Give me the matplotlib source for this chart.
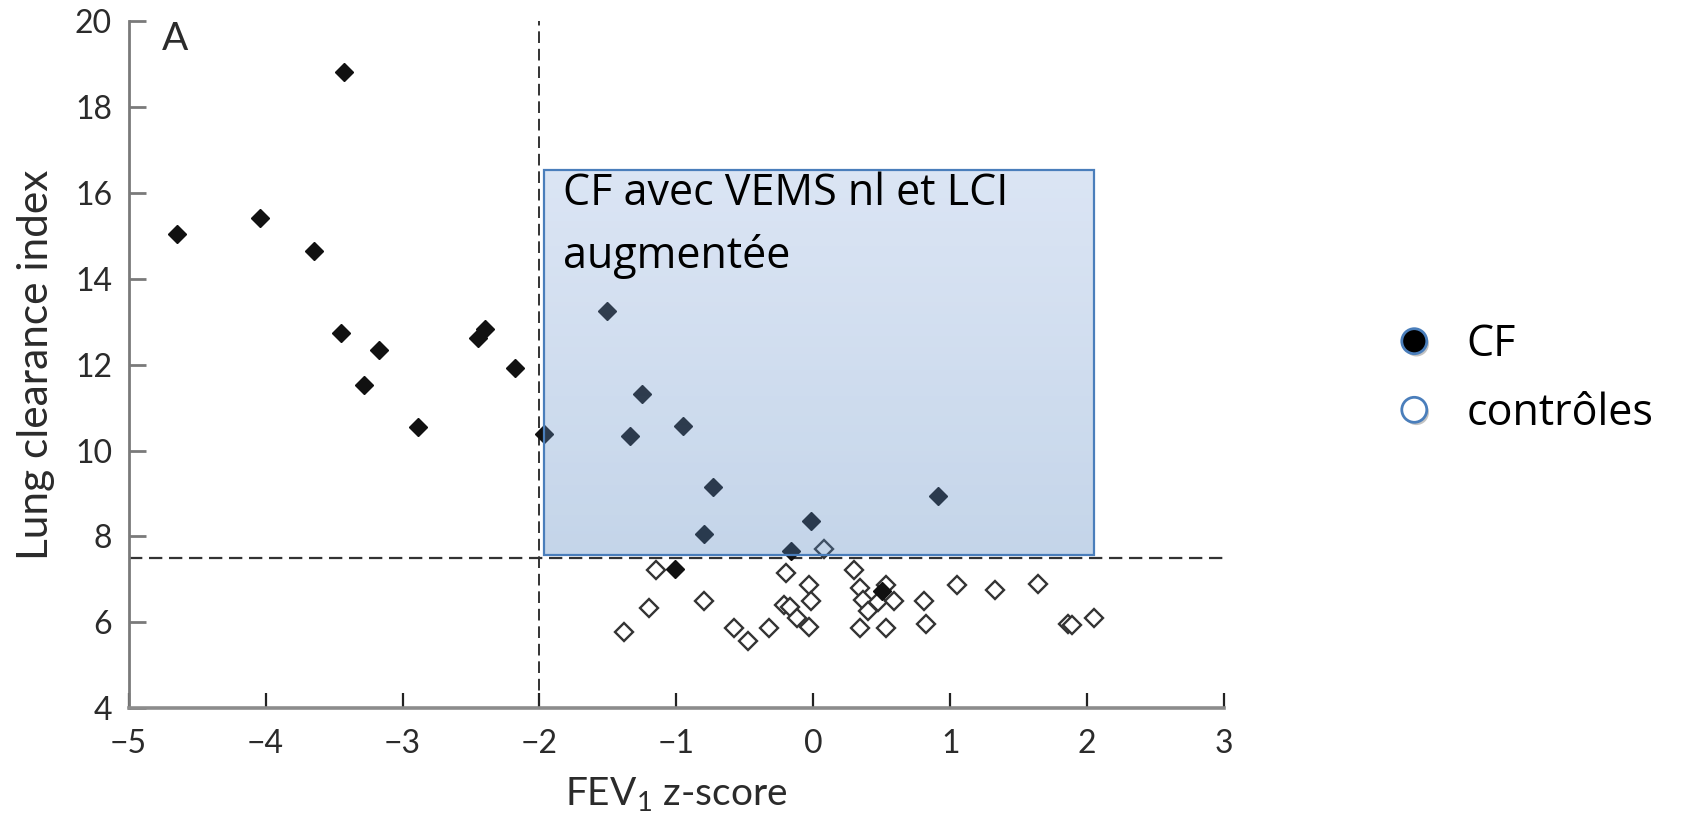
import matplotlib.pyplot as plt
import matplotlib.patheffects as pe
from matplotlib.lines import Line2D
from matplotlib.patches import Rectangle
import numpy as np

plt.rcParams['font.family'] = ['Lato', 'DejaVu Sans']
plt.rcParams['mathtext.default'] = 'regular'

# CF patients: FEV1 z-score vs lung clearance index
cf_fev1 = [-3.43, -4.65, -4.04, -3.65, -3.45, -3.17, -3.28, -2.89, -2.45, -2.40,
           -2.18, -1.97, -1.51, -1.25, -1.34, -0.95, -0.73, -0.80, -0.02, -0.16,
           0.91, -1.01, 0.50]
cf_lci = [18.83, 15.05, 15.43, 14.65, 12.73, 12.35, 11.53, 10.55, 12.63, 12.83,
          11.93, 10.38, 13.25, 11.33, 10.33, 10.58, 9.15, 8.05, 8.35, 7.65,
          8.93, 7.23, 6.72]

# healthy controls
ctl_fev1 = [-1.15, -0.20, 0.30, -0.03, 0.34, 0.53, -1.20, -0.80, -0.21, -0.17,
            -0.02, 0.36, 0.47, 0.59, 0.81, 0.40, 1.05, 1.33, 1.64, -1.38,
            -0.58, -0.48, -0.32, -0.12, -0.03, 0.34, 0.53, 0.82, 1.86, 1.89,
            2.05, 0.08]
ctl_lci = [7.21, 7.14, 7.21, 6.86, 6.79, 6.86, 6.32, 6.49, 6.40, 6.36,
           6.50, 6.52, 6.48, 6.50, 6.50, 6.27, 6.86, 6.75, 6.88, 5.76,
           5.87, 5.57, 5.86, 6.10, 5.88, 5.87, 5.86, 5.96, 5.95, 5.94,
           6.09, 7.70]

fev1_cut = -2.0
lci_cut = 7.5

# CF with normal FEV1 but raised LCI
zone_fev1 = (-1.964, 2.049)
zone_lci = (7.56, 16.54)
zone_text = 'CF avec VEMS nl et LCI\naugmentée'

xticks = [-5, -4, -3, -2, -1, 0, 1, 2, 3]
yticks = [4, 6, 8, 10, 12, 14, 16, 18, 20]

fig = plt.figure(figsize=(16.82, 8.14), dpi=100)
ax = fig.add_axes([0.0765, 0.1302, 0.6512, 0.8434])

for side in ['top', 'right']:
    ax.spines[side].set_visible(False)
ax.spines['left'].set_color('#7a7a7a')
ax.spines['left'].set_linewidth(2.0)
ax.spines['bottom'].set_color('#8c8c8c')
ax.spines['bottom'].set_linewidth(2.6)

ax.set_xticks(xticks)
ax.set_yticks(yticks)
ax.set_xticklabels([str(t).replace('-', '\u2212') for t in xticks])
ax.tick_params(axis='y', direction='in', length=12, width=2.0, color='#7a7a7a',
               labelsize=23, labelcolor='#2b2b2b', pad=12)
ax.tick_params(axis='x', direction='in', length=11, width=1.6, color='#222222',
               labelsize=23, labelcolor='#2b2b2b', pad=15)

ax.set_ylabel('Lung clearance index', fontsize=30.5, color='#2b2b2b')
ax.yaxis.set_label_coords(-0.067, 0.5)
ax.set_xlabel('FEV$_{1}$ z-score', fontsize=28, color='#2b2b2b')
ax.xaxis.set_label_coords(0.5, -0.098)

# cut-off lines
ax.axvline(fev1_cut, color='#333333', lw=1.4, dashes=(6, 3), zorder=1)
ax.axhline(lci_cut, color='#333333', lw=1.6, dashes=(6, 3), zorder=1)

ax.plot(ctl_fev1, ctl_lci, 'D', ms=9, mfc='white', mec='#333333', mew=1.7,
        ls='none', zorder=2)
ax.plot(cf_fev1, cf_lci, 'D', ms=9.5, color='#111111', ls='none', zorder=3)

ax.text(-4.76, 19.34, 'A', fontsize=28, color='#2b2b2b', va='baseline')

# translucent shaded zone with vertical gradient
n = 64
t = np.linspace(0, 1, n)[:, None]
top = np.array([0.53, 0.66, 0.86])
bot = np.array([0.34, 0.53, 0.76])
rgba = np.zeros((n, 1, 4))
rgba[..., :3] = top + (bot - top) * t[..., None]
rgba[..., 3] = 0.30 + 0.05 * t
ax.imshow(rgba, extent=[zone_fev1[0], zone_fev1[1], zone_lci[0], zone_lci[1]],
          aspect='auto', origin='upper', zorder=4, interpolation='bilinear')
ax.add_patch(Rectangle((zone_fev1[0], zone_lci[0]), zone_fev1[1] - zone_fev1[0],
                       zone_lci[1] - zone_lci[0], fill=False, ec='#4a7ebb',
                       lw=1.6, zorder=5))
# baseline of the last line
ax.text(-1.83, 14.25, zone_text, fontsize=31, color='black', va='baseline',
        linespacing=1.55, zorder=6, family=['Open Sans', 'DejaVu Sans'])
ax.set_xlim(-5, 3)
ax.set_ylim(4, 20)

shadow = [pe.SimplePatchShadow(offset=(1.5, -2), shadow_rgbFace='#555555',
                               alpha=0.35), pe.Normal()]
handles = [Line2D([], [], ls='none', marker='o', ms=18, mfc='black',
                  mec='#4a7ebb', mew=2, path_effects=shadow),
           Line2D([], [], ls='none', marker='o', ms=18, mfc='white',
                  mec='#4a7ebb', mew=2, path_effects=shadow)]
fig.legend(handles, ['CF', 'contrôles'], loc='center left',
           bbox_to_anchor=(0.805, 0.534), frameon=False,
           prop={'family': ['Open Sans', 'DejaVu Sans'], 'size': 31},
           handlelength=1.0, handletextpad=0.72, labelspacing=0.56)

fig.savefig('out.png', dpi=100)
